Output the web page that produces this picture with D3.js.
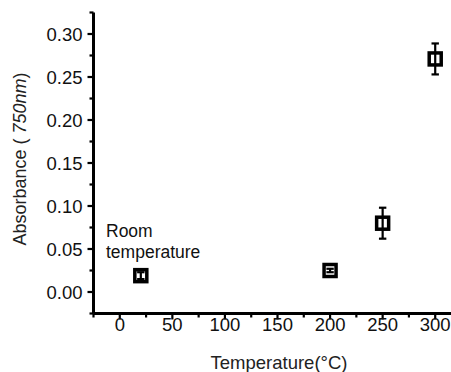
<!DOCTYPE html>
<html><head><meta charset="utf-8">
<script src="https://cdn.jsdelivr.net/npm/d3@7"></script>
<style>body{margin:0;background:#fff}svg{display:block;font-family:"Liberation Sans",Arial,sans-serif}</style>
</head><body><svg id="c" width="451" height="372"></svg>
<script>
const temperatures = [20, 200, 250, 300];
const absorbance = [0.019, 0.025, 0.080, 0.271];
const errors = [0.004, 0.002, 0.018, 0.018];
const xTicks = [0, 50, 100, 150, 200, 250, 300];
const yTicks = [0.00, 0.05, 0.10, 0.15, 0.20, 0.25, 0.30];
const annotation = ["Room", "temperature"];

const svg = d3.select("#c");
const x = d3.scaleLinear().domain([-25, 325]).range([93.5, 461.5]);
const y = d3.scaleLinear().domain([-0.025, 0.325]).range([313.5, 12.5]);
const fs = 18.5;

// X axis
const gx = svg.append("g").attr("transform", `translate(0,${y(-0.025)})`);
gx.append("line").attr("x1", x(-25)).attr("x2", x(325)).attr("stroke", "#000").attr("stroke-width", 3);
const xMinor = d3.range(-25, 326, 25);
gx.selectAll(".xt").data(xMinor).enter().append("line")
  .attr("x1", d => x(d)).attr("x2", d => x(d)).attr("y1", 0)
  .attr("y2", d => (d % 50 === 0 ? 6 : 4)).attr("stroke", "#000").attr("stroke-width", 2.2);
gx.selectAll(".xl").data(xTicks).enter().append("text")
  .attr("x", d => x(d)).attr("y", 17.5).attr("text-anchor", "middle")
  .attr("font-size", fs).attr("fill", "#111").text(d => d);

// Y axis
const gy = svg.append("g").attr("transform", `translate(${x(-25)},0)`);
gy.append("line").attr("y1", y(-0.025)).attr("y2", y(0.325)).attr("stroke", "#000").attr("stroke-width", 3);
const yMinor = d3.range(-0.025, 0.33, 0.025);
gy.selectAll(".yt").data(yMinor).enter().append("line")
  .attr("y1", d => y(d)).attr("y2", d => y(d)).attr("x1", 0)
  .attr("x2", d => (Math.abs(Math.round(d * 40) % 2) === 0 ? -6 : -4)).attr("stroke", "#000").attr("stroke-width", 2.2);
gy.selectAll(".yl").data(yTicks).enter().append("text")
  .attr("x", -11).attr("y", d => y(d) + 6.5).attr("text-anchor", "end")
  .attr("font-size", fs).attr("fill", "#111").text(d => d.toFixed(2));

// Titles
svg.append("text").attr("x", 279).attr("y", 369).attr("text-anchor", "middle")
  .attr("font-size", 18.5).attr("fill", "#222").text("Temperature(\u00B0C)");
const yt = svg.append("text").attr("transform", "translate(26,159) rotate(-90)")
  .attr("text-anchor", "middle").attr("font-size", 18).attr("fill", "#222");
yt.append("tspan").text("Absorbance ( ");
yt.append("tspan").attr("font-style", "italic").text("750nm");
yt.append("tspan").text(")");

// Annotation
svg.selectAll(".ann").data(annotation).enter().append("text")
  .attr("x", 106).attr("y", (d, i) => 237 + i * 21).attr("font-size", 17.5).attr("fill", "#111").text(d => d);

// Error bars
const pts = temperatures.map((t, i) => ({t, v: absorbance[i], e: errors[i]}));
const eg = svg.append("g").attr("stroke", "#000").attr("stroke-width", 2.2);
pts.forEach(p => {
  const cx = x(p.t);
  eg.append("line").attr("x1", cx).attr("x2", cx).attr("y1", y(p.v - p.e)).attr("y2", y(p.v + p.e));
  [p.v - p.e, p.v + p.e].forEach(v => {
    eg.append("line").attr("x1", cx - 3.7).attr("x2", cx + 3.7).attr("y1", y(v)).attr("y2", y(v));
  });
});
// Markers
svg.selectAll(".m").data(pts).enter().append("rect")
  .attr("x", d => x(d.t) - 6).attr("y", d => y(d.v) - 6)
  .attr("width", 12).attr("height", 12)
  .attr("fill", "none").attr("stroke", "#000").attr("stroke-width", 3.5);
</script></body></html>
